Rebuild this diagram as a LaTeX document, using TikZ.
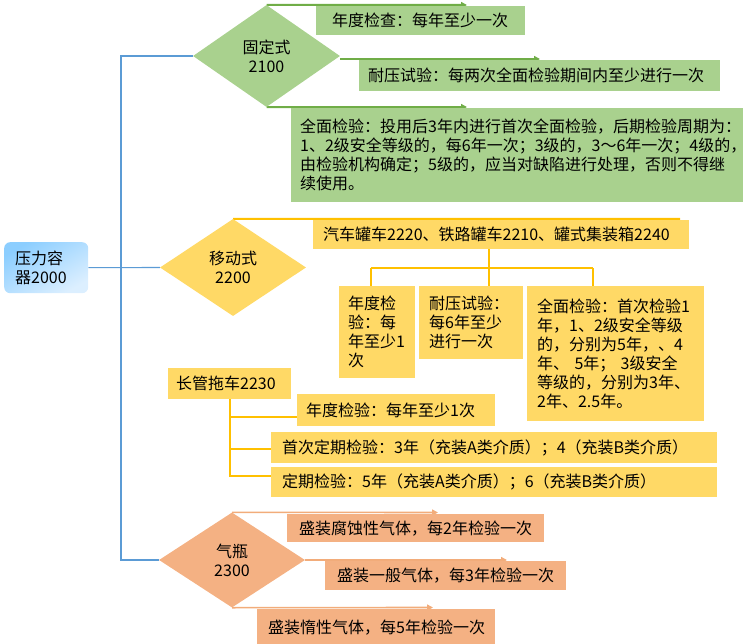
\documentclass[tikz,border=0pt]{standalone}
\usepackage{fontspec}
\setmainfont{Noto Sans CJK SC}
\usetikzlibrary{shapes.geometric,arrows.meta}
\definecolor{gcol}{HTML}{A9D18E}
\definecolor{gdark}{HTML}{70AD47}
\definecolor{ycol}{HTML}{FFD966}
\definecolor{ydark}{HTML}{FFC000}
\definecolor{scol}{HTML}{F4B183}
\definecolor{sdark}{HTML}{F2AC7A}
\definecolor{bcol}{HTML}{5B9BD5}
\definecolor{rootA}{HTML}{8CCEFF}
\definecolor{rootB}{HTML}{DCEFFF}
\pgfdeclarelayer{bg}
\pgfsetlayers{bg,main}
\begin{document}
\begin{tikzpicture}[x=1pt,y=-1pt,
  font=\fontsize{16pt}{19pt}\selectfont,
  box/.style={rectangle, draw=none, anchor=north west, align=left, inner ysep=1pt},
  gbox/.style={box, fill=gcol},
  ybox/.style={box, fill=ycol},
  sbox/.style={box, fill=scol},
  dia/.style={diamond, draw=none, inner sep=0pt, align=center},
  tip/.style={-{Triangle[length=6pt,width=6pt]}},
  gline/.style={draw=gdark, line width=2pt, tip},
  yline/.style={draw=ydark, line width=2pt},
  sline/.style={draw=sdark, line width=1.6pt, tip},
  bline/.style={draw=bcol, line width=1.1pt}]
\useasboundingbox (0,0) rectangle (755,644);

% root
\node[box, minimum width=84pt, minimum height=51pt, text width=62pt, inner xsep=11pt,
      rounded corners=6pt, top color=rootA, bottom color=rootB, shading angle=30]
      (root) at (4,242) {压力容\\器2000};

% diamonds
\node[dia, fill=gcol, minimum width=147pt, minimum height=102pt] (d1) at (266.5,56) {固定式\\2100};
\node[dia, fill=ycol, minimum width=146pt, minimum height=97pt] (d2) at (233,267.5) {移动式\\2200};
\node[dia, fill=scol, minimum width=146pt, minimum height=95pt] (d3) at (232,560) {气瓶\\2300};

% green boxes
\node[gbox, text width=177pt, inner xsep=16pt, minimum height=29pt] (b1) at (316,6) {年度检查：每年至少一次};
\node[gbox, text width=343pt, inner xsep=9pt, minimum height=31pt] (b2) at (359,60) {耐压试验：每两次全面检验期间内至少进行一次};
\node[gbox, text width=434pt, inner xsep=9pt, minimum height=94pt] (b3) at (291,108)
  {全面检验：投用后3年内进行首次全面检验，后期检验周期为：\\1、2级安全等级的，每6年一次；3级的，3～6年一次；4级的，\\由检验机构确定；5级的，应当对缺陷进行处理，否则不得继\\续使用。};

% yellow boxes
\node[ybox, text width=356pt, inner xsep=10pt, minimum height=29pt] (yb) at (313,220) {汽车罐车2220、铁路罐车2210、罐式集装箱2240};
\node[ybox, text width=58pt, inner xsep=9pt, minimum height=92pt] (ya) at (339,286) {年度检\\验：每\\年至少1\\次};
\node[ybox, text width=84pt, inner xsep=10pt, minimum height=73pt] (yB) at (419,286) {耐压试验：\\每6年至少\\进行一次};
\node[ybox, text width=157pt, inner xsep=10pt, minimum height=135pt] (yc) at (527,286)
  {全面检验：首次检验1\\年，1、2级安全等级\\的，分别为5年，、4\\年、~5年；~3级安全\\等级的，分别为3年、\\2年、2.5年。};

\node[ybox, text width=107pt, inner xsep=8pt, minimum height=31pt] (lt) at (168,368) {长管拖车2230};
\node[ybox, text width=180pt, inner xsep=9pt, minimum height=32pt] (lt1) at (297,394) {年度检验：每年至少1次};
\node[ybox, text width=424pt, inner xsep=11pt, minimum height=31pt] (lt2) at (271,432) {首次定期检验：3年（充装A类介质）；4（充装B类介质）};
\node[ybox, text width=424pt, inner xsep=11pt, minimum height=30pt] (lt3) at (271,467) {定期检验：5年（充装A类介质）；6（充装B类介质）};

% salmon boxes
\node[sbox, text width=233pt, inner xsep=12pt, minimum height=28pt] (s1) at (287,514) {盛装腐蚀性气体，每2年检验一次};
\node[sbox, text width=217pt, inner xsep=12pt, minimum height=29pt] (s2) at (325,561) {盛装一般气体，每3年检验一次};
\node[sbox, text width=216pt, inner xsep=11pt, minimum height=36pt] (s3) at (257,609) {盛装惰性气体，每5年检验一次};

% free ends / junctions
\coordinate (g1) at (467,5);
\coordinate (g2) at (540,59);
\coordinate (g3) at (467,107);
\coordinate (ye) at (680,219);
\coordinate (ja) at (371,268);
\coordinate (j0) at (489,268);
\coordinate (jc) at (593,268);
\coordinate (sp1) at (121,56);
\coordinate (sp3) at (121,560);
\coordinate (e1) at (438,512.5);
\coordinate (e2) at (507,560);
\coordinate (e3) at (433,607.5);

\begin{pgfonlayer}{bg}
  % blue
  \draw[bline] (d1.west) -- (sp1) -- (sp3) -- (d3.west);
  \draw[bline] (root.east) -- (d2.west);
  % green
  \draw[gline] (d1.north) -- (g1);
  \draw[gline] ([yshift=-3pt]d1.east) -- (g2);
  \draw[gline] (d1.south) -- (g3);
  % yellow
  \draw[yline] (d2.north) -- (ye);
  \draw[yline] (yb.south -| j0) -- (j0);
  \draw[yline] (ja) -- (jc);
  \draw[yline] (ja) -- (ja |- ya.north);
  \draw[yline] (j0) -- (j0 |- yB.north);
  \draw[yline] (jc) -- (jc |- yc.north);
  \draw[yline] (lt.south) |- ([yshift=-7pt]lt1.west);
  \draw[yline] (lt.south) |- ([yshift=-1pt]lt2.west);
  \draw[yline] (lt.south) |- ([yshift=6pt]lt3.west);
  % salmon
  \draw[sline] (d3.north) -- (e1);
  \draw[sline] (d3.east) -- (e2);
  \draw[sline] (d3.south) -- (e3);
\end{pgfonlayer}
\end{tikzpicture}
\end{document}
